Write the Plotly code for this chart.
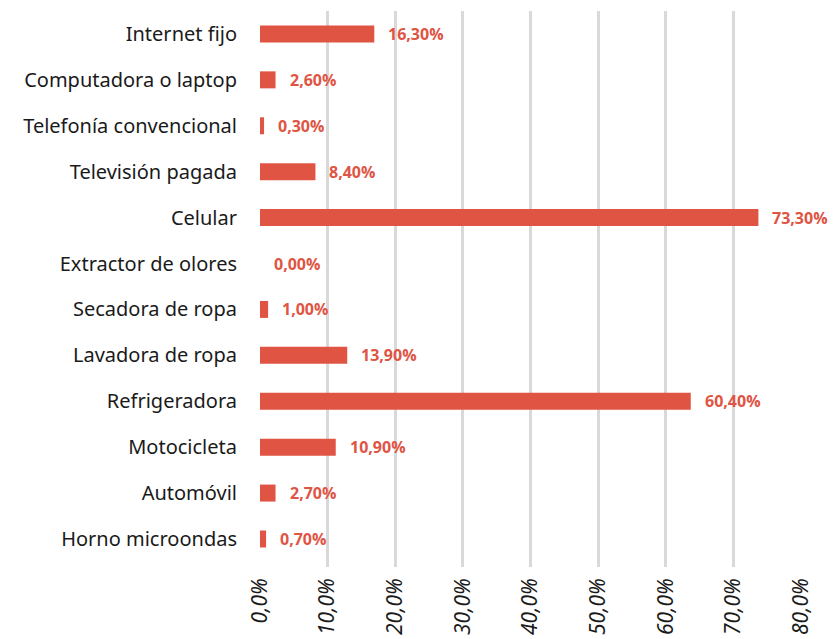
import plotly.graph_objects as go

categories = ["Internet fijo", "Computadora o laptop", "Telefonía convencional",
              "Televisión pagada", "Celular", "Extractor de olores",
              "Secadora de ropa", "Lavadora de ropa", "Refrigeradora",
              "Motocicleta", "Automóvil", "Horno microondas"]
# bar lengths as drawn in the picture (%)
values = [16.9, 2.3, 0.6, 8.2, 73.7, 0.0, 1.2, 12.9, 63.7, 11.2, 2.3, 0.9]
# data labels as printed in the picture
value_labels = ["16,30%", "2,60%", "0,30%", "8,40%", "73,30%", "0,00%",
                "1,00%", "13,90%", "60,40%", "10,90%", "2,70%", "0,70%"]
tick_vals = [0, 10, 20, 30, 40, 50, 60, 70, 80]
tick_text = ["0,0%", "10,0%", "20,0%", "30,0%", "40,0%", "50,0%", "60,0%", "70,0%", "80,0%"]

RED = "#E05444"

fig = go.Figure()
fig.add_trace(go.Bar(
    x=values, y=categories, orientation="h",
    marker=dict(color=RED, line=dict(width=0)),
    width=0.37, showlegend=False, hoverinfo="skip",
))
for c, v, t in zip(categories, values, value_labels):
    fig.add_annotation(x=v, y=c, text=t, showarrow=False, xanchor="left",
                       xshift=12, font=dict(family="Open Sans", size=16, color=RED, weight="bold"))

fig.update_layout(
    width=833, height=639,
    margin=dict(l=260, r=32, t=11, b=72),
    plot_bgcolor="white", paper_bgcolor="white",
    xaxis=dict(range=[0, 80], tickvals=tick_vals, ticktext=tick_text,
               tickangle=-90, showgrid=True, gridcolor="#d9d9d9", gridwidth=3,
               zeroline=False, showline=False, automargin=False,
               ticklabelstandoff=6,
               tickfont=dict(family="Noto Sans", size=21, color="#1a1a1a", style="italic")),
    yaxis=dict(categoryorder="array", categoryarray=categories[::-1],
               range=[-0.61, 11.5],
               showgrid=False, zeroline=False, showline=False, automargin=False,
               ticklabelstandoff=22,
               tickfont=dict(family="Noto Sans", size=20, color="#1a1a1a")),
)

fig.write_html("out.html", post_script="document.body.style.margin='0';",
               config={"displayModeBar": False})
